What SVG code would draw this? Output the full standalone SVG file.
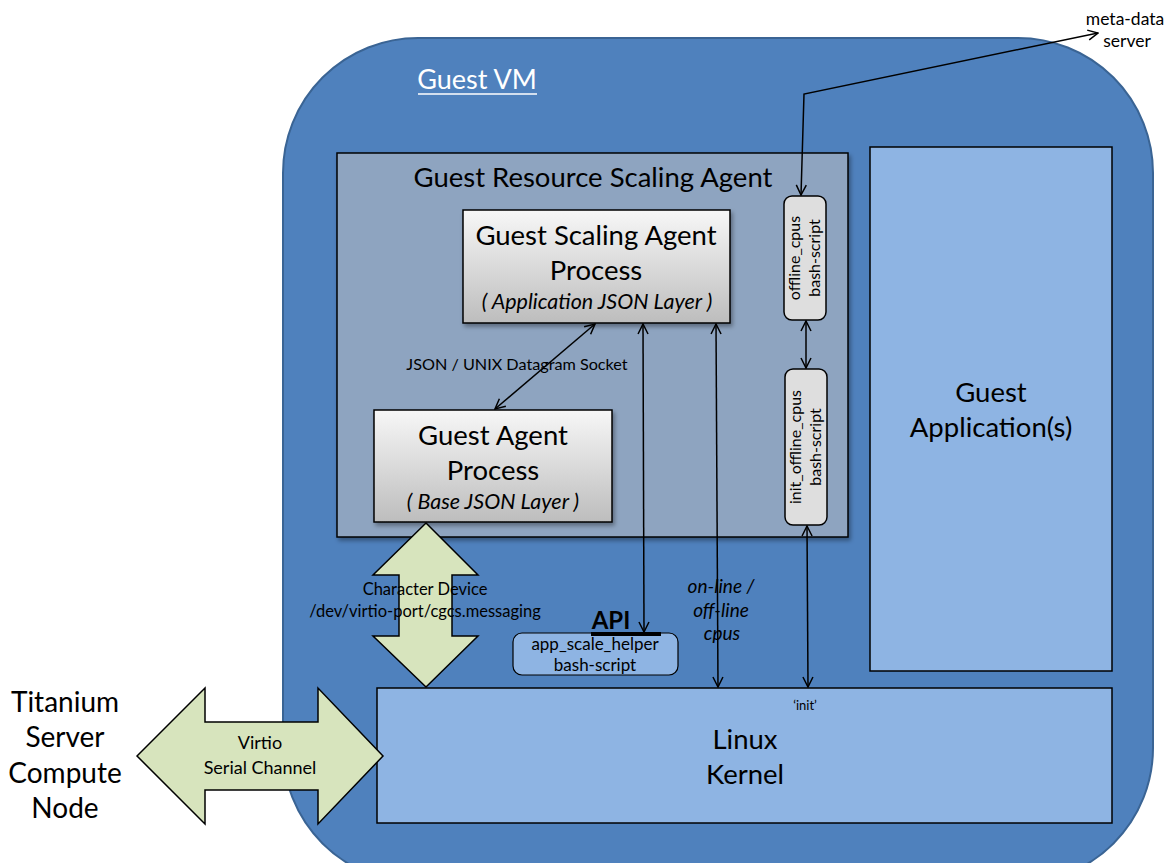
<svg xmlns="http://www.w3.org/2000/svg" width="1167" height="863" viewBox="0 0 1167 863">
<style>
text{font-family:Lato,"Liberation Sans",Arial,sans-serif;fill:#000}
.big{font-size:27.5px}
.it{font-style:italic}
.sm{font-size:16.5px}
.rot{font-size:16px}
.conn{fill:none;stroke:#000;stroke-width:1.5;marker-start:url(#ah);marker-end:url(#ah)}
</style>
<defs>
<marker id="ah" viewBox="0 0 12 12" refX="11" refY="6" markerWidth="12" markerHeight="12" markerUnits="userSpaceOnUse" orient="auto-start-reverse">
<path d="M1,1 L11,6 L1,11" fill="none" stroke="#000" stroke-width="1.5"/>
</marker>
<linearGradient id="gp" x1="0" y1="0" x2="0" y2="1">
<stop offset="0" stop-color="#F7F7F7"/><stop offset="1" stop-color="#BDBDBD"/>
</linearGradient>
<filter id="sh" x="-5%" y="-5%" width="115%" height="120%">
<feDropShadow dx="2" dy="3" stdDeviation="2" flood-color="#000" flood-opacity="0.35"/>
</filter>
</defs>

<g id="guest-vm">
<rect x="283" y="38" width="870" height="845" rx="135" ry="135" fill="#4F81BD" stroke="#3A6494" stroke-width="2"/>
<text x="477" y="89" font-size="27" text-anchor="middle" style="fill:#fff">Guest VM</text>
<line x1="418" y1="94" x2="537" y2="94" stroke="#fff" stroke-width="1.5"/>
</g>

<g id="scaling-agent">
<rect x="337" y="153" width="511" height="384" fill="#8EA4C0" stroke="#000" stroke-width="1.5" filter="url(#sh)"/>
<text x="593" y="187" class="big" text-anchor="middle">Guest Resource Scaling Agent</text>
</g>

<g id="gsap">
<rect x="463" y="210" width="267" height="113" fill="url(#gp)" stroke="#000" stroke-width="1.5" filter="url(#sh)"/>
<text x="596" y="245" class="big" text-anchor="middle">Guest Scaling Agent</text>
<text x="596" y="280" class="big" text-anchor="middle">Process</text>
<text x="597" y="309" font-size="21.5" class="it" text-anchor="middle">( Application JSON Layer )</text>
</g>

<g id="gap">
<rect x="374" y="410" width="238" height="112" fill="url(#gp)" stroke="#000" stroke-width="1.5" filter="url(#sh)"/>
<text x="493" y="445" class="big" text-anchor="middle">Guest Agent</text>
<text x="493" y="480" class="big" text-anchor="middle">Process</text>
<text x="493" y="509" font-size="21.5" class="it" text-anchor="middle">( Base JSON Layer )</text>
</g>

<g id="offline-cpus">
<rect x="784" y="196" width="42" height="124" rx="8" fill="#DEDEDE" stroke="#000" stroke-width="1.5"/>
<text transform="translate(800,258) rotate(-90)" class="rot" text-anchor="middle">offline_cpus</text>
<text transform="translate(820,258) rotate(-90)" class="rot" text-anchor="middle">bash-script</text>
</g>

<g id="init-offline-cpus">
<rect x="785" y="369" width="42" height="156" rx="8" fill="#DEDEDE" stroke="#000" stroke-width="1.5"/>
<text transform="translate(801,447) rotate(-90)" class="rot" text-anchor="middle">init_offline_cpus</text>
<text transform="translate(821,447) rotate(-90)" class="rot" text-anchor="middle">bash-script</text>
</g>

<g id="guest-app">
<rect x="870" y="147" width="242" height="524" fill="#8EB4E3" stroke="#000" stroke-width="1.5"/>
<text x="991" y="402" class="big" text-anchor="middle">Guest</text>
<text x="991" y="437" class="big" text-anchor="middle">Application(s)</text>
</g>

<g id="kernel">
<rect x="377" y="688" width="735" height="135" fill="#8EB4E3" stroke="#000" stroke-width="1.5"/>
<text x="805" y="710" font-size="13" text-anchor="middle">‘init’</text>
<text x="745" y="749" class="big" text-anchor="middle">Linux</text>
<text x="745" y="784" class="big" text-anchor="middle">Kernel</text>
</g>

<g id="app-scale-helper">
<rect x="513" y="633" width="165" height="42" rx="9" fill="#8EB4E3" stroke="#000" stroke-width="1.2"/>
<text x="595" y="650" font-size="17" text-anchor="middle">app_scale_helper</text>
<text x="595" y="671" font-size="17" text-anchor="middle">bash-script</text>
<text x="611" y="629" font-size="24" font-weight="bold" text-anchor="middle">API</text>
<line x1="591" y1="634" x2="661" y2="634" stroke="#000" stroke-width="4"/>
</g>

<g id="char-device">
<polygon points="426,523 478,575 452,575 452,636 478,636 426,687 373,636 399,636 399,575 373,575" fill="#D7E4BD" stroke="#000" stroke-width="1.5"/>
<text x="425" y="595" class="sm" text-anchor="middle">Character Device</text>
<text x="425" y="617" class="sm" text-anchor="middle">/dev/virtio-port/cgcs.messaging</text>
</g>

<g id="virtio">
<polygon points="137,756 205,688 205,722 318,722 318,688 383,756 318,824 318,790 205,790 205,824" fill="#D7E4BD" stroke="#000" stroke-width="1.5"/>
<text x="260" y="749" font-size="18" text-anchor="middle">Virtio</text>
<text x="260" y="774" font-size="18" text-anchor="middle">Serial Channel</text>
</g>

<g id="titanium">
<text x="65" y="712" font-size="28" text-anchor="middle">Titanium</text>
<text x="65" y="747" font-size="28" text-anchor="middle">Server</text>
<text x="65" y="783" font-size="28" text-anchor="middle">Compute</text>
<text x="65" y="818" font-size="28" text-anchor="middle">Node</text>
</g>

<g id="meta-data">
<text x="1125" y="25" font-size="17.5" text-anchor="middle">meta-data</text>
<text x="1127" y="47" font-size="17.5" text-anchor="middle">server</text>
</g>

<g id="connectors">
<polyline class="conn" points="801,195 804,94 1098,33"/>
<line class="conn" x1="806" y1="321" x2="806" y2="368"/>
<line class="conn" x1="807" y1="526" x2="808" y2="687"/>
<line class="conn" x1="595" y1="324" x2="495" y2="409"/>
<line class="conn" x1="643" y1="324" x2="644" y2="632"/>
<line class="conn" x1="716" y1="324" x2="718" y2="687"/>
<text x="721" y="593" font-size="19" class="it" text-anchor="middle">on-line /</text>
<text x="721" y="617" font-size="19" class="it" text-anchor="middle">off-line</text>
<text x="722" y="640" font-size="19" class="it" text-anchor="middle">cpus</text>
<text x="517" y="370" font-size="16.2" text-anchor="middle">JSON / UNIX Datagram Socket</text>
</g>
</svg>
